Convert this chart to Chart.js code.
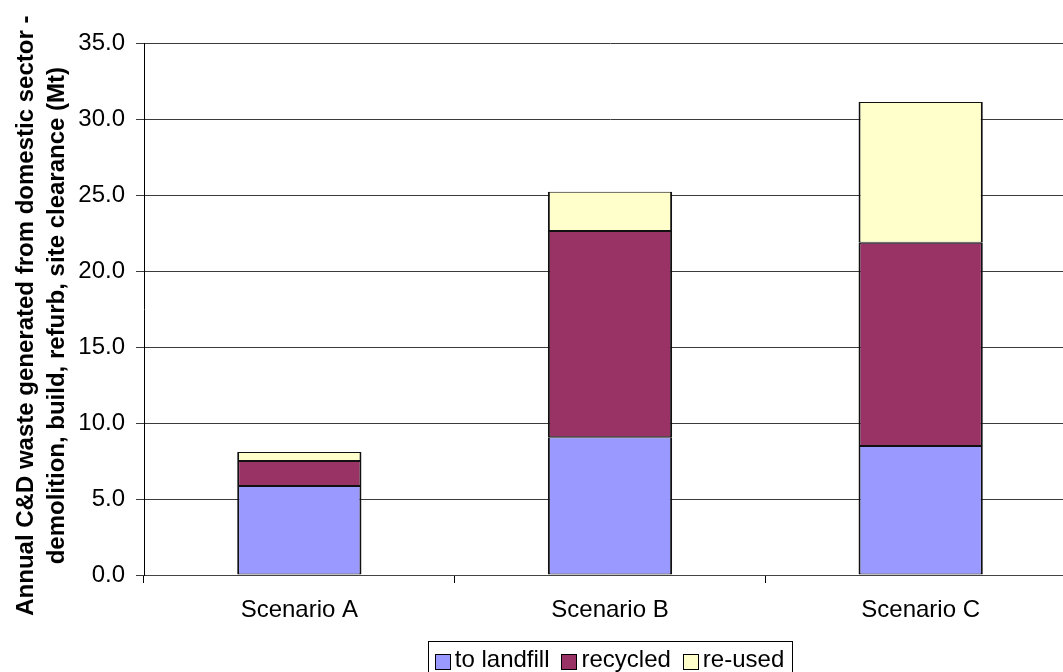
<!DOCTYPE html>
<html>
<head>
<meta charset="utf-8">
<script src="https://cdn.jsdelivr.net/npm/chart.js@4/dist/chart.umd.min.js"></script>
<style>
  html, body { margin: 0; padding: 0; background: #fff; overflow: hidden; }
  #wrap { width: 1100px; height: 672px; }
</style>
</head>
<body>
<div id="wrap"><canvas id="wasteChart" width="1100" height="672"></canvas></div>
<script>
// scenarios and stacked values (Mt)
const scenarios = ['Scenario A', 'Scenario B', 'Scenario C'];
const toLandfill = [5.86, 9.06, 8.49];
const recycled = [1.64, 13.57, 13.37];
const reUsed = [0.59, 2.59, 9.26];
const yTicks = [0, 5, 10, 15, 20, 25, 30, 35];

const FONT = '"Liberation Sans", Arial, sans-serif';
Chart.defaults.font.family = FONT;
Chart.defaults.color = '#000';

// legend drawn by hand so it gets the boxed Excel look
const boxedLegend = {
  id: 'boxedLegend',
  afterDraw(chart) {
    const ctx = chart.ctx;
    const area = chart.chartArea;
    const sq = 16, gap = 4, itemGap = 12, padL = 7, padR = 8;
    ctx.save();
    ctx.font = '24px ' + FONT;
    const items = chart.data.datasets.map(ds => ({
      text: ds.label, fill: ds.backgroundColor, w: ctx.measureText(ds.label).width
    }));
    let total = padL + padR;
    items.forEach((it, i) => { total += sq + gap + it.w + (i ? itemGap : 0); });
    const cx = (area.left + area.right) / 2;
    let x = cx - total / 2;
    const top = 641;
    ctx.strokeStyle = '#000';
    ctx.lineWidth = 1;
    ctx.strokeRect(Math.round(x) + 0.5, top + 0.5, Math.round(total), 44);
    x += padL;
    ctx.textBaseline = 'alphabetic';
    items.forEach((it, i) => {
      if (i) x += itemGap;
      ctx.fillStyle = it.fill;
      ctx.fillRect(Math.round(x), 654, sq, sq);
      ctx.strokeRect(Math.round(x) + 0.5, 654.5, sq - 1, sq - 1);
      x += sq + gap;
      ctx.fillStyle = '#000';
      ctx.fillText(it.text, x, 667);
      x += it.w;
    });
    ctx.restore();
  }
};

const ctx = document.getElementById('wasteChart').getContext('2d');
new Chart(ctx, {
  type: 'bar',
  data: {
    labels: scenarios,
    datasets: [
      { label: 'to landfill', data: toLandfill, backgroundColor: '#9999FF' },
      { label: 'recycled', data: recycled, backgroundColor: '#993366' },
      { label: 're-used', data: reUsed, backgroundColor: '#FFFFCC' },
    ].map(ds => Object.assign(ds, {
      borderColor: '#111',
      borderWidth: { top: 1, bottom: 1, left: 2, right: 2 },
      borderSkipped: false,
      categoryPercentage: 1, barPercentage: 0.4
    })),
  },
  options: {
    responsive: false,
    animation: false,
    devicePixelRatio: 1,
    layout: { padding: { top: 43, right: 24, left: 0, bottom: 0 } },
    plugins: { legend: { display: false }, tooltip: { enabled: false } },
    scales: {
      x: {
        stacked: true,
        grid: { drawOnChartArea: false, drawTicks: true, tickLength: 8, color: '#000', offset: true },
        border: { color: '#444', width: 1 },
        ticks: { font: { size: 24 }, color: '#000', padding: 13 },
        afterFit(scale) { scale.height = 97; },
      },
      y: {
        stacked: true,
        min: 0,
        max: 35,
        afterBuildTicks(scale) { scale.ticks = yTicks.map(v => ({ value: v })); },
        grid: { color: '#3a3a3a', lineWidth: 1, tickLength: 8 },
        border: { color: '#000', width: 1 },
        ticks: {
          font: { size: 24 }, color: '#000', padding: 11,
          callback: v => Number(v).toFixed(1)
        },
        title: {
          display: true,
          // trailing spaces nudge the rotated title down a touch, like the original
          text: ['Annual C&D waste generated from domestic sector -  ',
                 'demolition, build, refurb, site clearance (Mt)  '],
          font: { size: 24, weight: 'bold', lineHeight: 1.3 },
          color: '#000',
          padding: { top: 11, bottom: 0 }
        },
        afterFit(scale) { scale.width = 144; },
      },
    },
  },
  plugins: [boxedLegend],
});
</script>
</body>
</html>
